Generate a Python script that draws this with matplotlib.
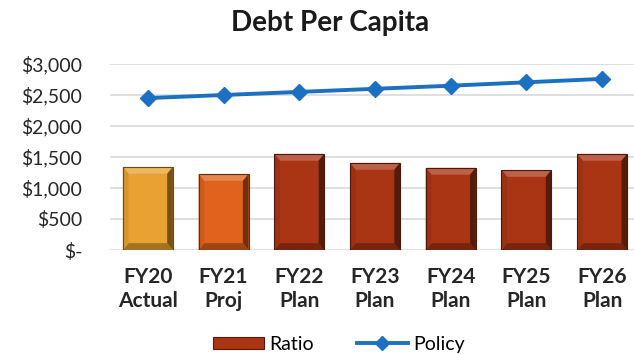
import numpy as np
import matplotlib.pyplot as plt
from matplotlib.patches import Polygon, Rectangle
from matplotlib.lines import Line2D
from matplotlib.ticker import FuncFormatter

plt.rcParams['font.family'] = ['Lato', 'DejaVu Sans']

labels = ['FY20\nActual', 'FY21\nProj', 'FY22\nPlan', 'FY23\nPlan', 'FY24\nPlan', 'FY25\nPlan', 'FY26\nPlan']
ratio = [1340, 1225, 1550, 1405, 1325, 1290, 1550]
policy = [2450, 2500, 2550, 2600, 2650, 2705, 2760]
bar_colors = ['#E9A231', '#E0621D', '#AA3515', '#AA3515', '#AA3515', '#AA3515', '#AA3515']


def shade(c, f):
    c = np.array(plt.matplotlib.colors.to_rgb(c))
    if f > 1:
        return tuple(c + (1 - c) * (f - 1))
    return tuple(c * f)


def bevel(ax, bar, color, dx=0.075, dy=110):
    x0, y0 = bar.get_x(), bar.get_y()
    x1, y1 = x0 + bar.get_width(), y0 + bar.get_height()
    faces = [
        ([(x0, y1), (x1, y1), (x1 - dx, y1 - dy), (x0 + dx, y1 - dy)], shade(color, 1.22)),
        ([(x0, y0), (x1, y0), (x1 - dx, y0 + dy), (x0 + dx, y0 + dy)], shade(color, 0.7)),
        ([(x1, y0), (x1, y1), (x1 - dx, y1 - dy), (x1 - dx, y0 + dy)], shade(color, 0.5)),
        ([(x0, y0), (x0, y1), (x0 + dx, y1 - dy), (x0 + dx, y0 + dy)], shade(color, 0.92)),
    ]
    for pts, fc in faces:
        ax.add_patch(Polygon(pts, closed=True, facecolor=fc, edgecolor='none', zorder=2.5))
    ax.add_patch(Rectangle((x0, y0), x1 - x0, y1 - y0, facecolor='none',
                           edgecolor=shade(color, 0.45), lw=0.8, zorder=2.6))


fig = plt.figure(figsize=(6.34, 3.54), dpi=100)
ax = fig.add_axes([110 / 634, 1 - 250 / 354, 1 - 110 / 634, 186 / 354])

x = np.arange(len(labels))
bars = ax.bar(x, ratio, width=0.66, color=bar_colors, zorder=2)
for b, c in zip(bars, bar_colors):
    bevel(ax, b, c)
ax.plot(x, policy, color='#1B70C1', lw=2.8, marker='D', markersize=8, zorder=3)

ax.set_ylim(0, 3000)
ax.set_xlim(-0.5, 6.42)
ax.set_yticks(np.arange(0, 3001, 500))
ax.yaxis.set_major_formatter(FuncFormatter(lambda v, p: '$-' if v == 0 else f'${v:,.0f}'))
ax.grid(axis='y', color='#D9D9D9', lw=1.2, zorder=0)
ax.set_axisbelow(True)
for s in ax.spines.values():
    s.set_visible(False)
ax.tick_params(axis='both', length=0, labelsize=14, colors='#262626')
ax.tick_params(axis='y', pad=20)
ax.set_xticks(x)
ax.set_xticklabels(labels, fontweight='bold', fontsize=15, linespacing=1.3)
ax.tick_params(axis='x', pad=12)

fig.text(0.52, 0.935, 'Debt Per Capita', ha='center', va='center', fontsize=20, fontweight='bold', color='#1a1a1a')

ratio_handle = Rectangle((0, 0), 1, 1, facecolor='#AA3515', edgecolor='#5A1A08', lw=0.8)
policy_handle = Line2D([], [], color='#1B70C1', lw=2.8, marker='D', markersize=7)
fig.legend([ratio_handle, policy_handle], ['Ratio', 'Policy'], loc='center',
           bbox_to_anchor=(0.535, 0.028), ncol=2, frameon=False, fontsize=14,
           handlelength=2.6, handleheight=0.55, columnspacing=2.2, handletextpad=0.3)

fig.savefig('out.png', dpi=100)
